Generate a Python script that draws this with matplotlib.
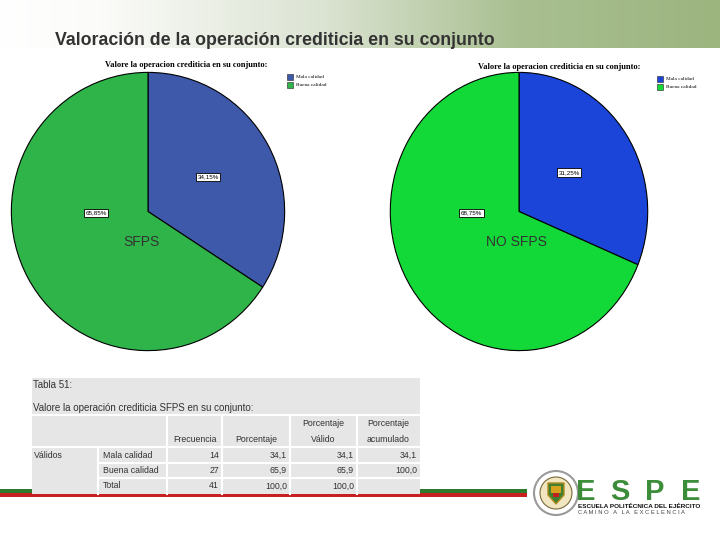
import numpy as np
import matplotlib
matplotlib.use("Agg")
import matplotlib.pyplot as plt
from matplotlib.colors import LinearSegmentedColormap
from matplotlib.patches import Rectangle, Circle, Polygon

# datos
categorias = ["Mala calidad", "Buena calidad"]
sfps_pct = [34.15, 65.85]
no_sfps_pct = [31.25, 68.75]
frecuencia = [14, 27]
porcentaje = [34.1, 65.9]
porc_valido = [34.1, 65.9]
porc_acum = [34.1, 100.0]
col_headers = [("", "Frecuencia"), ("", "Porcentaje"),
               ("Porcentaje", "Válido"), ("Porcentaje", "acumulado")]

W, H = 720, 540
SANS = ["Liberation Sans", "DejaVu Sans"]
SERIF = ["Liberation Serif", "DejaVu Serif"]
TXT = "#333333"


def fmt(v, dec=1):
    return f"{v:.{dec}f}".replace(".", ",")


def box(x, y, w, h):
    """rectangulo en pixeles -> fraccion de figura"""
    return [x / W, 1 - (y + h) / H, w / W, h / H]


def px_axes(zorder):
    ax = fig.add_axes([0, 0, 1, 1], zorder=zorder)
    ax.set_xlim(0, W)
    ax.set_ylim(H, 0)
    ax.axis("off")
    ax.patch.set_alpha(0)
    return ax


fig = plt.figure(figsize=(7.2, 5.4), dpi=100)
fig.patch.set_facecolor("white")

bg = px_axes(0)
top = px_axes(5)

# cabecera con degradado
cmap = LinearSegmentedColormap.from_list(
    "hdr", [(0, "#ffffff"), (0.14, "#fbfbf9"), (0.45, "#dbe3d2"),
            (0.72, "#a9bf91"), (1, "#9cb57f")])
bg.imshow(np.linspace(0, 1, 256)[None, :], cmap=cmap, aspect="auto",
          extent=(0, W, 48, 0), zorder=0)
bg.set_xlim(0, W)
bg.set_ylim(H, 0)
bg.text(55, 45, "Valoración de la operación crediticia en su conjunto",
        fontsize=12.8, fontweight="bold", color=TXT, family=SANS,
        va="baseline", ha="left")

# franjas inferiores
bg.add_patch(Rectangle((0, 489), 527, 3.5, color="#2f7a2a", lw=0, zorder=1))
bg.add_patch(Rectangle((0, 492.5), 527, 4.5, color="#c81e1e", lw=0, zorder=1))

# tabla
tx0, tx1 = 32, 420
bg.add_patch(Rectangle((tx0, 378), tx1 - tx0, 116, color="#e6e6e6", lw=0, zorder=2))
bg.text(33, 385, "Tabla 51:", fontsize=7, color=TXT, family=SANS,
        va="center", zorder=3)
bg.text(33, 408, "Valore la operación crediticia SFPS en su conjunto:",
        fontsize=7, color=TXT, family=SANS, va="center", zorder=3)

cols = [98, 167, 222, 290, 357, 420]
rows = [447, 463, 478, 494]
lc = "white"
lw = 1.5
bg.plot([tx0, tx1], [415, 415], color=lc, lw=lw, zorder=3)
bg.plot([tx0, tx1], [rows[0], rows[0]], color=lc, lw=lw, zorder=3)
for yy in rows[1:-1]:
    bg.plot([cols[0], tx1], [yy, yy], color=lc, lw=lw, zorder=3)
bg.plot([cols[0], cols[0]], [rows[0], rows[-1]], color=lc, lw=lw, zorder=3)
for xx in cols[1:-1]:
    bg.plot([xx, xx], [415, rows[-1]], color=lc, lw=lw, zorder=3)

fs_t = 6.3
for i, (h1, h2) in enumerate(col_headers):
    cx = (cols[i + 1] + cols[i + 2]) / 2
    if h1:
        bg.text(cx, 424, h1, fontsize=fs_t, color=TXT, family=SANS,
                ha="center", va="center", zorder=4)
    bg.text(cx, 440, h2, fontsize=fs_t, color=TXT, family=SANS,
            ha="center", va="center", zorder=4)

bg.text(34, 455, "Válidos", fontsize=fs_t, color=TXT, family=SANS,
        va="center", zorder=4)
row_labels = categorias + ["Total"]
tabla = [
    [frecuencia[0], fmt(porcentaje[0]), fmt(porc_valido[0]), fmt(porc_acum[0])],
    [frecuencia[1], fmt(porcentaje[1]), fmt(porc_valido[1]), fmt(porc_acum[1])],
    [sum(frecuencia), fmt(sum(porcentaje)), fmt(sum(porc_valido)), ""],
]
for r, lab in enumerate(row_labels):
    cy = (rows[r] + rows[r + 1]) / 2
    bg.text(103, cy, lab, fontsize=fs_t, color=TXT, family=SANS,
            va="center", zorder=4)
    for c, val in enumerate(tabla[r]):
        bg.text(cols[c + 2] - 3, cy, str(val), fontsize=fs_t, color=TXT,
                family=SANS, ha="right", va="center", zorder=4)

# logo ESPE
bg.add_patch(Circle((556, 493), 22, facecolor="white", edgecolor="#9a9a9a",
                    lw=1.5, zorder=2))
bg.add_patch(Circle((556, 493), 16, facecolor="#f2e6c0", edgecolor="#7a6a3a",
                    lw=0.8, zorder=3))
bg.add_patch(Polygon([(548, 483), (564, 483), (564, 495), (556, 504), (548, 495)],
                     closed=True, facecolor="#3f7f2f", edgecolor="#b08a20",
                     lw=1, zorder=4))
bg.add_patch(Rectangle((551, 486), 10, 7, facecolor="#d6a21e", lw=0, zorder=5))
bg.add_patch(Rectangle((553, 493), 6, 4, facecolor="#c02020", lw=0, zorder=5))
for letra, xx in zip("ESPE", [586, 620, 655, 691]):
    bg.text(xx, 500, letra, fontsize=21, fontweight="bold", color="#3c8c3a",
            family=SANS, ha="center", va="baseline", zorder=3)
bg.text(578, 506, "ESCUELA POLITÉCNICA DEL EJÉRCITO", fontsize=4.6,
        fontweight="bold", color="#111111", family=SANS, va="center", zorder=3)
bg.text(578, 513, "C A M I N O   A   L A   E X C E L E N C I A", fontsize=4.2,
        color="#444444", family=SANS, va="center", zorder=3)


def pastel(rect, valores, colores, titulo, tit_xy, ley_xy, etiq_xy, nombre, nom_xy):
    ax = fig.add_axes(box(*rect), zorder=2)
    ax.pie(valores, colors=colores, startangle=90, counterclock=False,
           radius=1, wedgeprops=dict(edgecolor="black", linewidth=0.8))
    ax.set_aspect("auto")
    ax.set_xlim(-1.01, 1.01)
    ax.set_ylim(-1.01, 1.01)
    ax.axis("off")
    for v, (lx, ly) in zip(valores, etiq_xy):
        ax.text(lx, ly, fmt(v, 2) + "%", fontsize=4.5, family=SANS,
                ha="center", va="center", color="black",
                bbox=dict(boxstyle="square,pad=0.25", fc="white", ec="black", lw=0.6))
    top.text(tit_xy[0], tit_xy[1], titulo, fontsize=6, fontweight="semibold",
             family=SERIF, color="black", va="center")
    for i, (cat, col) in enumerate(zip(categorias, colores)):
        yy = ley_xy[1] + i * 8
        top.add_patch(Rectangle((ley_xy[0], yy - 3), 6, 6, facecolor=col,
                                edgecolor="#222222", lw=0.4))
        top.text(ley_xy[0] + 9, yy, cat, fontsize=3.8, family=SERIF,
                 color="black", va="center")
    top.text(nom_xy[0], nom_xy[1], nombre, fontsize=10, family=SANS,
             color=TXT, ha="center", va="center")
    return ax


pastel((10, 71, 276, 281), sfps_pct, ["#3f59aa", "#2fb44a"],
       "Valore la operacion crediticia en su conjunto:", (105, 65), (287, 77),
       [(0.44, 0.25), (-0.38, -0.01)], "SFPS", (141, 242))
pastel((389, 71, 260, 281), no_sfps_pct, ["#1a45d8", "#12d937"],
       "Valore la operacion crediticia en su conjunto:", (478, 67), (657, 79),
       [(0.39, 0.28), (-0.37, -0.01)], "NO SFPS", (516, 242))

fig.savefig("out.png", dpi=100)
